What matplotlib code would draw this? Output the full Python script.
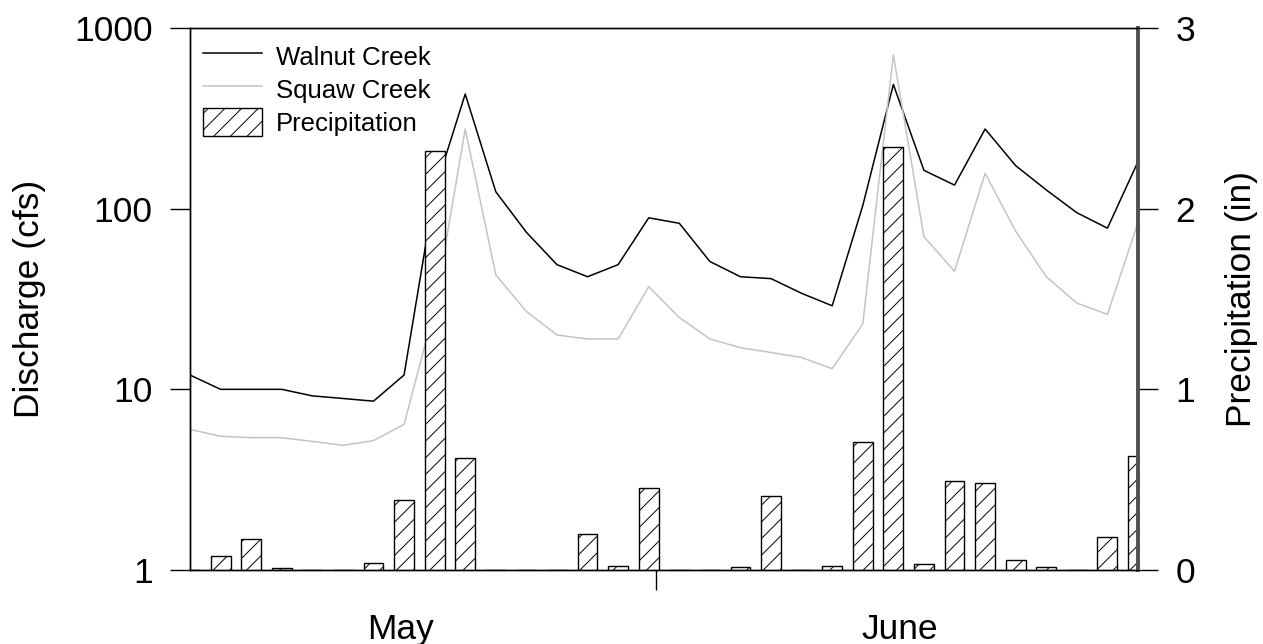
import numpy as np
import matplotlib
matplotlib.use("Agg")
import matplotlib.pyplot as plt
from matplotlib.patches import Patch
from matplotlib.lines import Line2D

plt.rcParams['font.family'] = ['Liberation Sans', 'DejaVu Sans']
plt.rcParams['hatch.linewidth'] = 0.7

# daily record, index 0 = first day shown
days = np.arange(32)

walnut = [12, 10, 10, 10, 9.2, 8.9, 8.6, 12, 125, 431, 124, 74, 49, 42, 49, 89,
          83, 51, 42, 41, 34, 29, 104, 487, 163, 135, 276, 173, 127, 95, 78, 182]
squaw = [6.0, 5.5, 5.4, 5.4, 5.15, 4.9, 5.2, 6.4, 28, 276, 43, 27, 20, 19, 19, 37,
         25, 19, 17, 16, 15, 13, 23, 711, 70, 45, 157, 75, 42, 30, 26, 84]
precip = [0, 0.08, 0.17, 0.01, 0, 0, 0.04, 0.39, 2.32, 0.62, 0, 0, 0, 0.20, 0.02, 0.455,
          0, 0, 0.015, 0.41, 0, 0.02, 0.71, 2.34, 0.035, 0.49, 0.48, 0.053, 0.015, 0, 0.18, 0.63]

month_break = 15.25
month_names = ['May', 'June']
month_centers = [6.87, 23.2]

fig = plt.figure(figsize=(12.63, 6.44), dpi=100)
ax = fig.add_axes([190 / 1263, 1 - 570 / 644, 948 / 1263, 542 / 644])

ax.plot(days, walnut, color='black', lw=1.1)
ax.plot(days, squaw, color='#c4c4c4', lw=1.1)
ax.set_yscale('log')
ax.set_ylim(1, 1000)
ax.set_xlim(0, 31)
ax.set_yticks([1, 10, 100, 1000])
ax.set_yticklabels(['1', '10', '100', '1000'])
ax.yaxis.set_minor_locator(matplotlib.ticker.NullLocator())
ax.set_ylabel('Discharge (cfs)', fontsize=25.5, va='center', ha='center')
ax.yaxis.set_label_coords(-0.1688, 0.5)

# month boundary tick, month names underneath
ax.set_xticks([month_break])
ax.set_xticklabels([''])
ax.set_xticks(month_centers, minor=True)
ax.set_xticklabels(month_names, minor=True)
ax.tick_params(axis='x', which='minor', length=0, pad=31, labelsize=25.5)
ax.tick_params(axis='both', which='major', direction='out', length=14.4, width=1.0,
               labelsize=25.5, pad=12.5)

ax2 = ax.twinx()
ax2.bar(days, precip, width=0.65, facecolor='white', edgecolor='black',
        linewidth=1.0, hatch='//', clip_on=True)
ax2.set_ylim(0, 3)
ax2.set_yticks([0, 1, 2, 3])
ax2.tick_params(axis='y', direction='out', length=14.4, width=1.0,
                labelsize=25.5, pad=12.5)
ax2.set_ylabel('Precipitation (in)', fontsize=25.5, va='center', ha='center')
ax2.yaxis.set_label_coords(1.1087, 0.5)
ax2.set_xlim(0, 31)

for a in (ax, ax2):
    for side in ('left', 'top', 'bottom'):
        a.spines[side].set_linewidth(1.0)
ax2.spines['right'].set_linewidth(2.8)
ax2.spines['right'].set_color('#505050')

handles = [Line2D([], [], color='black', lw=1.1),
           Line2D([], [], color='#c4c4c4', lw=1.1),
           Patch(facecolor='white', edgecolor='black', linewidth=1.0, hatch='//')]
ax2.legend(handles, ['Walnut Creek', 'Squaw Creek', 'Precipitation'],
           loc='upper left', bbox_to_anchor=(13 / 948, 1 - 14 / 542),
           frameon=False, fontsize=18.5, handlelength=2.3, handleheight=1.3,
           handletextpad=0.55, labelspacing=0.2, borderpad=0, borderaxespad=0)

fig.savefig('out.png', dpi=100)
